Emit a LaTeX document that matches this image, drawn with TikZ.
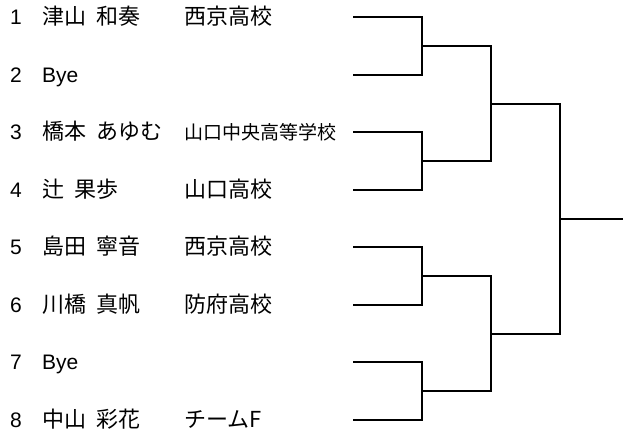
\documentclass[tikz,border=0pt]{standalone}
\usepackage{fontspec}
\setmainfont{Liberation Sans}
\newfontfamily\jpfont[WordSpace=2.2]{Noto Sans CJK JP}

\begin{document}
\begin{tikzpicture}[x=1pt,y=-1pt,line width=2pt,
    entry/.style={anchor=base west,inner sep=0pt,font=\fontsize{21}{25}\selectfont},
    player/.style={entry,font=\fontsize{22}{26}\selectfont\jpfont}]
  \useasboundingbox (0,0) rectangle (624,435);
  % entrants
  \foreach \i/\pl/\sc in {1/津山 和奏/西京高校,
                          2/{\rmfamily\fontsize{21}{25}\selectfont Bye}/{},
                          3/橋本 あゆむ/{\fontsize{19}{22}\selectfont 山口中央高等学校},
                          4/辻 果歩/山口高校,
                          5/島田 寧音/西京高校,
                          6/川橋 真帆/防府高校,
                          7/{\rmfamily\fontsize{21}{25}\selectfont Bye}/{},
                          8/中山 彩花/チームF}{
    \pgfmathsetmacro\yy{17.5+(\i-1)*57.5}
    \node[entry]  (num\i) at (9,\yy+7.5)   {\i};
    \node[player] (pl\i)  at (41,\yy+7.5)  {\pl};
    \node[player] (sc\i)  at (183,\yy+7.5) {\sc};
    \coordinate (e\i) at (353,\yy);
  }
  % bracket
  \coordinate (m1) at (422,46.25);
  \coordinate (m2) at (422,161.25);
  \coordinate (m3) at (422,276.25);
  \coordinate (m4) at (422,391.25);
  \coordinate (s1) at (491,103.75);
  \coordinate (s2) at (491,333.75);
  \coordinate (fin) at (560,218.75);
  \coordinate (win) at (623,218.75);
  \foreach \a/\b/\m in {1/2/1,3/4/2,5/6/3,7/8/4}
    \draw (e\a) -| (m\m) |- (e\b);
  \draw (m1) -| (s1) |- (m2);
  \draw (m3) -| (s2) |- (m4);
  \draw (s1) -| (fin) |- (s2);
  \draw (fin) -- (win);
\end{tikzpicture}
\end{document}
